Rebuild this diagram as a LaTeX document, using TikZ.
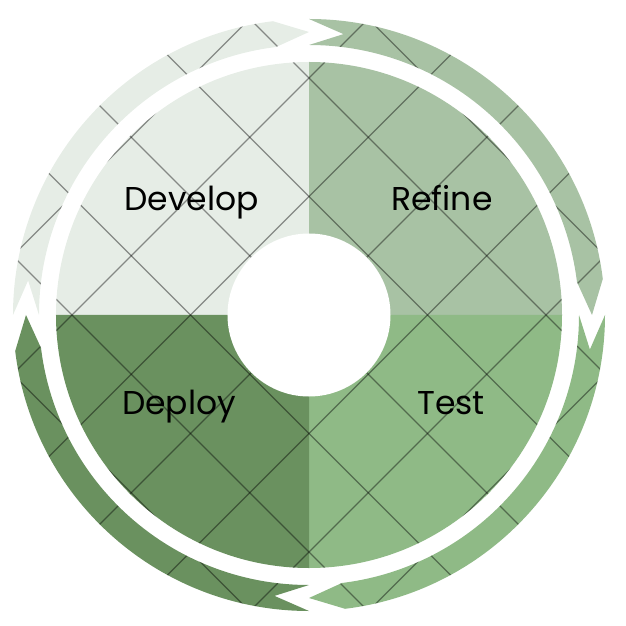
\documentclass[tikz,border=0pt]{standalone}
\usepackage{fontspec}
\setmainfont{Poppins}
\usepackage{xcolor}
\usepackage{tikz}
\definecolor{devgreen}{HTML}{E6EDE6}
\definecolor{refgreen}{HTML}{A8C2A4}
\definecolor{tstgreen}{HTML}{8FBA86}
\definecolor{depgreen}{HTML}{6A915F}

\begin{document}
\begin{tikzpicture}[x=1pt, y=1pt,
  phase/.style={anchor=base, inner sep=0pt, font=\fontsize{33}{40}\selectfont},
  gridline/.style={draw=black, opacity=0.42, line width=1.3pt},
  hub/.style={circle, fill=white, minimum size=163pt, inner sep=0pt}]
  \useasboundingbox (-309,-311) rectangle (317,315);
  \foreach \s/\e/\col in {180/90/devgreen, 90/0/refgreen, 0/-90/tstgreen, -90/-180/depgreen} {
    \begin{scope}
      \clip (0,0) -- (\e:253) arc[start angle=\e, end angle=\s, radius=253] -- cycle
        (\s:296) arc[start angle=\s, end angle=\e+7, radius=296] -- (\e:283)
        -- (\e+7:270) arc[start angle=\e+7, end angle=\s, radius=270] -- (\s-7:283) -- cycle;
      \fill[\col] (-320,-320) rectangle (320,320);
      \foreach \k in {-3,...,3} {
        \draw[gridline] ({59.25*\k-400},{59.25*\k+400}) -- ++(800,-800);
        \draw[gridline] ({59.25*\k-400},{-59.25*\k-400}) -- ++(800,800);
      }
    \end{scope}
  }
  \node[hub] (centre) at (0,0) {};
  \node[phase] (develop) at (-117.5,104) {Develop};
  \node[phase] (refine) at (133,104) {Refine};
  \node[phase] (deploy) at (-130,-99) {Deploy};
  \node[phase] (test) at (142,-99) {Test};
\end{tikzpicture}
\end{document}
